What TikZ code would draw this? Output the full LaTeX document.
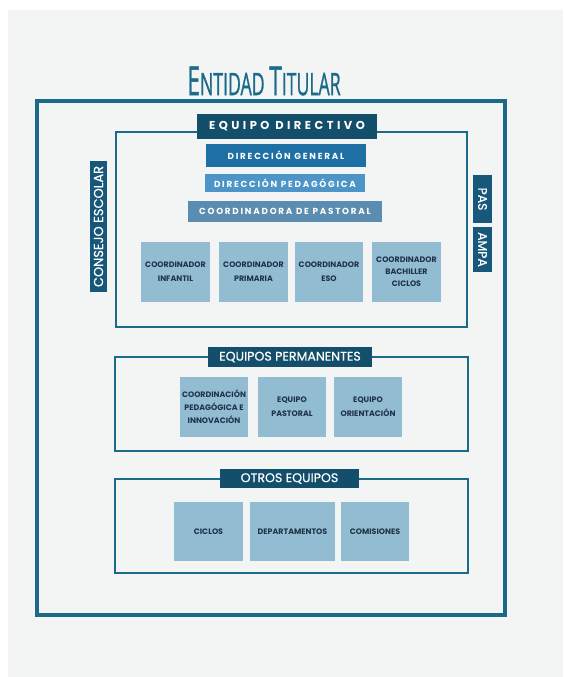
\documentclass[tikz,border=0pt]{standalone}
\usepackage{fontspec}
\setmainfont{Poppins}
\newfontfamily\spacedfont[LetterSpace=30]{Poppins}
\newfontfamily\midfont[LetterSpace=20]{Poppins}
\newfontfamily\medfont[FakeBold=0.5]{Poppins}
\newfontfamily\titlefont[FakeBold=1.2]{Open Sans}
\definecolor{bgc}{HTML}{F3F5F5}
\definecolor{framec}{HTML}{1A6A88}
\definecolor{labelc}{HTML}{134E6B}
\definecolor{consejoc}{HTML}{17587A}
\definecolor{dgc}{HTML}{1E6FA3}
\definecolor{dpc}{HTML}{4C95C6}
\definecolor{cpc}{HTML}{5A8DB0}
\definecolor{lightc}{HTML}{92BCD2}
\definecolor{darktext}{HTML}{1E3347}
\tikzset{
  frame/.style={draw=framec, line width=2.2pt, inner sep=0pt},
  label/.style={fill=labelc, text=white, inner sep=0pt, font=\fontsize{11.5}{12}\selectfont\bfseries\spacedfont},
  sublabel/.style={fill=labelc, text=white, inner sep=0pt, font=\fontsize{12.6}{13}\selectfont\medfont},
  bar/.style={text=white, inner sep=0pt, font=\fontsize{8.8}{9}\selectfont\bfseries\midfont},
  lightbox/.style={fill=lightc, text=darktext, inner sep=0pt, align=center, font=\fontsize{7.9}{13.8}\selectfont\bfseries},
  sidebox/.style={fill=consejoc, text=white, inner sep=0pt, font=\fontsize{12.4}{13}\selectfont\medfont},
}
\begin{document}
\begin{tikzpicture}[x=1pt,y=-1pt]
\useasboundingbox (0,0) rectangle (563,677);
\fill[bgc] (8,10) rectangle (563,677);
% title
\node (title) at (264,81) {\color{framec}\scalebox{0.57}[1]{\titlefont\fontsize{40}{40}\selectfont E\fontsize{31}{31}\selectfont NTIDAD \fontsize{40}{40}\selectfont T\fontsize{31}{31}\selectfont ITULAR}};
% outer frame
\node[draw=framec, line width=4pt, minimum width=468pt, minimum height=514pt, inner sep=0pt] (outer) at (271,358) {};
% equipo directivo
\node[frame, minimum width=351pt, minimum height=195pt] (edframe) at (291.5,229.5) {};
\node[label, minimum width=180pt, minimum height=25pt] (edlabel) at (287,126.5) {EQUIPO DIRECTIVO};
\node[bar, fill=dgc, minimum width=160pt, minimum height=23pt] (dg) at (286,155.5) {DIRECCIÓN GENERAL};
\node[bar, fill=dpc, minimum width=160pt, minimum height=18pt] (dp) at (285,183) {DIRECCIÓN PEDAGÓGICA};
\node[bar, fill=cpc, minimum width=194pt, minimum height=21pt] (cp) at (285,211.5) {COORDINADORA DE PASTORAL};
\node[lightbox, minimum width=69pt, minimum height=60pt] (c1) at (175.5,272) {COORDINADOR\\INFANTIL};
\node[lightbox, minimum width=69pt, minimum height=60pt] (c2) at (253.5,272) {COORDINADOR\\PRIMARIA};
\node[lightbox, minimum width=68pt, minimum height=60pt] (c3) at (329,272) {COORDINADOR\\ESO};
\node[lightbox, minimum width=69pt, minimum height=60pt, font=\fontsize{7.9}{12}\selectfont\bfseries] (c4) at (406.5,272) {COORDINADOR\\BACHILLER\\CICLOS};
% side boxes
\node[sidebox, rotate=90, minimum width=131pt, minimum height=17pt, font=\fontsize{13}{13}\selectfont\medfont] (consejo) at (98.5,226.5) {CONSEJO ESCOLAR};
\node[sidebox, rotate=-90, minimum width=48pt, minimum height=19pt] (pas) at (482.5,199) {PAS};
\node[sidebox, rotate=-90, minimum width=45pt, minimum height=19pt] (ampa) at (482.5,249.5) {AMPA};
% equipos permanentes
\node[frame, minimum width=353pt, minimum height=94pt] (epframe) at (291.5,404) {};
\node[sublabel, minimum width=164pt, minimum height=20pt] (eplabel) at (290,357) {EQUIPOS PERMANENTES};
\node[lightbox, minimum width=68pt, minimum height=60pt, font=\fontsize{7.9}{13}\selectfont\bfseries] (e1) at (214,407) {COORDINACIÓN\\PEDAGÓGICA E\\INNOVACIÓN};
\node[lightbox, minimum width=68pt, minimum height=60pt] (e2) at (292,407) {EQUIPO\\PASTORAL};
\node[lightbox, minimum width=68pt, minimum height=60pt] (e3) at (368,407) {EQUIPO\\ORIENTACIÓN};
% otros equipos
\node[frame, minimum width=353pt, minimum height=94pt] (oeframe) at (291.5,526) {};
\node[sublabel, minimum width=139pt, minimum height=19pt] (oelabel) at (289.5,478.5) {OTROS EQUIPOS};
\node[lightbox, minimum width=69pt, minimum height=59pt] (o1) at (208.5,531.5) {CICLOS};
\node[lightbox, minimum width=85pt, minimum height=59pt] (o2) at (292.5,531.5) {DEPARTAMENTOS};
\node[lightbox, minimum width=68pt, minimum height=59pt] (o3) at (375,531.5) {COMISIONES};
\end{tikzpicture}
\end{document}
